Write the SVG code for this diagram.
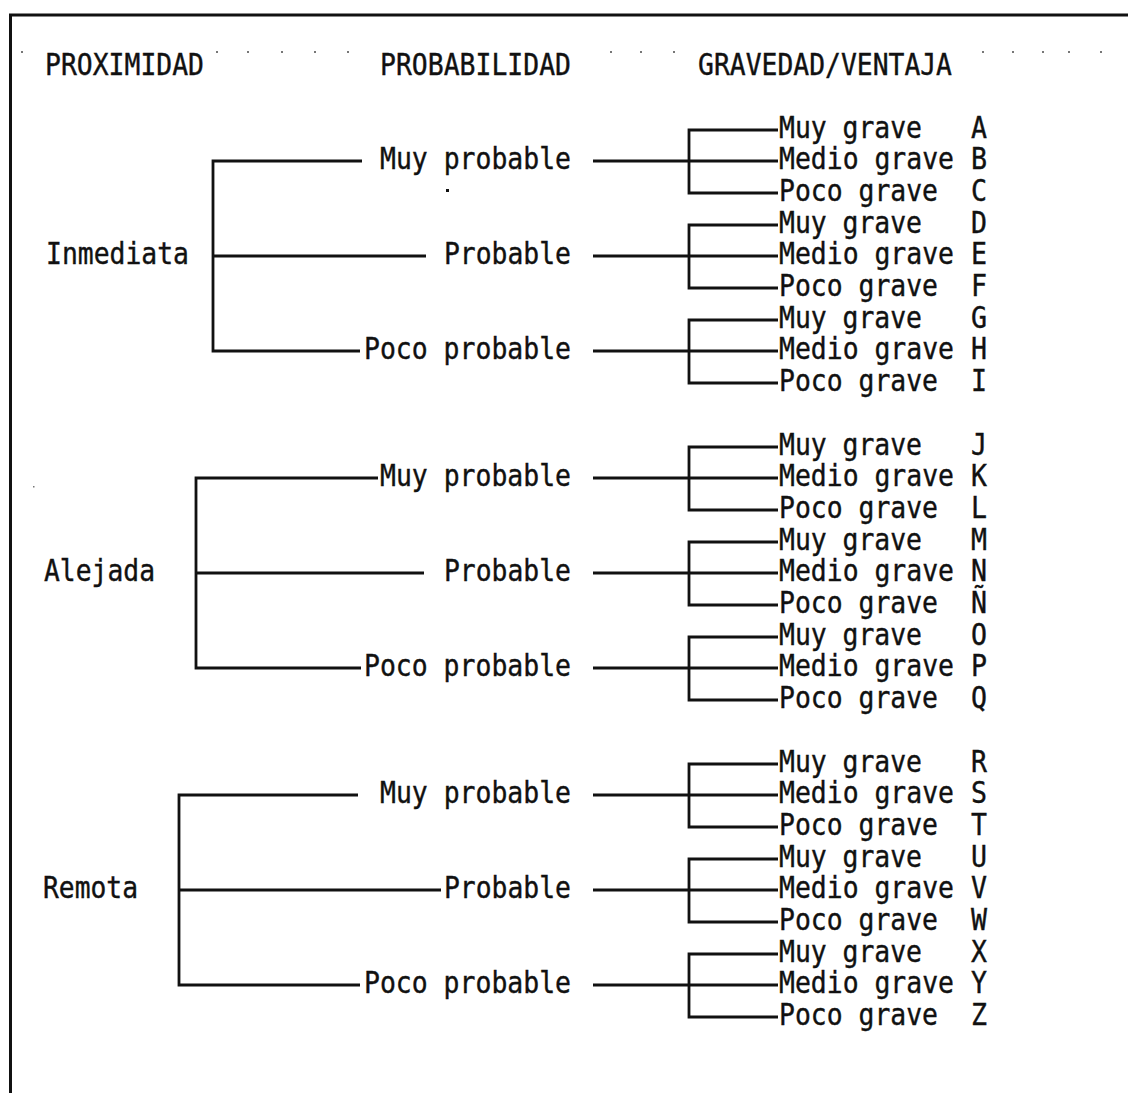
<svg xmlns="http://www.w3.org/2000/svg" width="1128" height="1093" viewBox="0 0 1128 1093">
  <style>
    text { font-family: "DejaVu Sans Mono", "Liberation Mono", monospace; font-size: 30px; fill: #111; stroke: #111; stroke-width: 0.4; }
    .ln { fill: none; stroke: #111; stroke-width: 2.8; stroke-linecap: butt; stroke-linejoin: miter; }
    .frame { fill: none; stroke: #111; stroke-width: 3; }
    .dot { fill: #777; }
  </style>

  <!-- page frame -->
  <path class="frame" d="M10.5 1093 V15 H1128"/>

  <!-- tab leader dots on the header line -->
  <g id="leaders">
    <rect class="dot" x="21" y="51" width="2" height="2"/>
    <rect class="dot" x="216" y="51" width="2" height="2"/>
    <rect class="dot" x="247" y="51" width="2" height="2"/>
    <rect class="dot" x="281" y="51" width="2" height="2"/>
    <rect class="dot" x="314" y="51" width="2" height="2"/>
    <rect class="dot" x="347" y="51" width="2" height="2"/>
    <rect class="dot" x="610" y="51" width="2" height="2"/>
    <rect class="dot" x="640" y="51" width="2" height="2"/>
    <rect class="dot" x="673" y="51" width="2" height="2"/>
    <rect class="dot" x="982" y="51" width="2" height="2"/>
    <rect class="dot" x="1012" y="51" width="2" height="2"/>
    <rect class="dot" x="1042" y="51" width="2" height="2"/>
    <rect class="dot" x="1068" y="51" width="2" height="2"/>
    <rect class="dot" x="1100" y="51" width="2" height="2"/>
    <rect x="446" y="189" width="3" height="3" fill="#111"/>
    <rect class="dot" x="33" y="486" width="1.5" height="1.5"/>
  </g>

  <!-- column headers -->
  <g id="headers">
    <text x="45" y="75" textLength="159" lengthAdjust="spacingAndGlyphs">PROXIMIDAD</text>
    <text x="380" y="75" textLength="191" lengthAdjust="spacingAndGlyphs">PROBABILIDAD</text>
    <text x="698" y="75" textLength="254" lengthAdjust="spacingAndGlyphs">GRAVEDAD/VENTAJA</text>
  </g>

  <!-- connectors -->
  <g id="connectors">
    <!-- proximity brackets -->
    <path class="ln" d="M362 161 H213 V351 H360 M213 256 H426"/>
    <path class="ln" d="M378 478 H196 V668 H361 M196 573 H424"/>
    <path class="ln" d="M358 795 H179 V985 H360 M179 890 H441"/>
    <!-- severity brackets -->
    <path class="ln" d="M778 130 H689 V193 H778 M593 161 H778"/>
    <path class="ln" d="M778 225 H689 V288 H778 M593 256 H778"/>
    <path class="ln" d="M778 320 H689 V383 H778 M593 351 H778"/>
    <path class="ln" d="M778 447 H689 V510 H778 M593 478 H778"/>
    <path class="ln" d="M778 542 H689 V605 H778 M593 573 H778"/>
    <path class="ln" d="M778 637 H689 V700 H778 M593 668 H778"/>
    <path class="ln" d="M778 764 H689 V827 H778 M593 795 H778"/>
    <path class="ln" d="M778 859 H689 V922 H778 M593 890 H778"/>
    <path class="ln" d="M778 954 H689 V1017 H778 M593 985 H778"/>
  </g>

  <!-- proximity nodes -->
  <g id="prox-inmediata"><text x="46" y="264" textLength="143" lengthAdjust="spacingAndGlyphs">Inmediata</text></g>
  <g id="prox-alejada"><text x="44" y="581" textLength="111" lengthAdjust="spacingAndGlyphs">Alejada</text></g>
  <g id="prox-remota"><text x="43" y="898" textLength="95" lengthAdjust="spacingAndGlyphs">Remota</text></g>

  <!-- probability nodes -->
  <g id="prob-1a"><text x="380" y="169" textLength="191" lengthAdjust="spacingAndGlyphs">Muy probable</text></g>
  <g id="prob-1b"><text x="444" y="264" textLength="127" lengthAdjust="spacingAndGlyphs">Probable</text></g>
  <g id="prob-1c"><text x="364" y="359" textLength="207" lengthAdjust="spacingAndGlyphs">Poco probable</text></g>
  <g id="prob-2a"><text x="380" y="486" textLength="191" lengthAdjust="spacingAndGlyphs">Muy probable</text></g>
  <g id="prob-2b"><text x="444" y="581" textLength="127" lengthAdjust="spacingAndGlyphs">Probable</text></g>
  <g id="prob-2c"><text x="364" y="676" textLength="207" lengthAdjust="spacingAndGlyphs">Poco probable</text></g>
  <g id="prob-3a"><text x="380" y="803" textLength="191" lengthAdjust="spacingAndGlyphs">Muy probable</text></g>
  <g id="prob-3b"><text x="444" y="898" textLength="127" lengthAdjust="spacingAndGlyphs">Probable</text></g>
  <g id="prob-3c"><text x="364" y="993" textLength="207" lengthAdjust="spacingAndGlyphs">Poco probable</text></g>

  <!-- severity leaves -->
  <g id="grav-A"><text x="779" y="138" textLength="143" lengthAdjust="spacingAndGlyphs">Muy grave</text><text x="971" y="138" textLength="16" lengthAdjust="spacingAndGlyphs">A</text></g>
  <g id="grav-B"><text x="779" y="169" textLength="175" lengthAdjust="spacingAndGlyphs">Medio grave</text><text x="971" y="169" textLength="16" lengthAdjust="spacingAndGlyphs">B</text></g>
  <g id="grav-C"><text x="779" y="201" textLength="159" lengthAdjust="spacingAndGlyphs">Poco grave</text><text x="971" y="201" textLength="16" lengthAdjust="spacingAndGlyphs">C</text></g>
  <g id="grav-D"><text x="779" y="233" textLength="143" lengthAdjust="spacingAndGlyphs">Muy grave</text><text x="971" y="233" textLength="16" lengthAdjust="spacingAndGlyphs">D</text></g>
  <g id="grav-E"><text x="779" y="264" textLength="175" lengthAdjust="spacingAndGlyphs">Medio grave</text><text x="971" y="264" textLength="16" lengthAdjust="spacingAndGlyphs">E</text></g>
  <g id="grav-F"><text x="779" y="296" textLength="159" lengthAdjust="spacingAndGlyphs">Poco grave</text><text x="971" y="296" textLength="16" lengthAdjust="spacingAndGlyphs">F</text></g>
  <g id="grav-G"><text x="779" y="328" textLength="143" lengthAdjust="spacingAndGlyphs">Muy grave</text><text x="971" y="328" textLength="16" lengthAdjust="spacingAndGlyphs">G</text></g>
  <g id="grav-H"><text x="779" y="359" textLength="175" lengthAdjust="spacingAndGlyphs">Medio grave</text><text x="971" y="359" textLength="16" lengthAdjust="spacingAndGlyphs">H</text></g>
  <g id="grav-I"><text x="779" y="391" textLength="159" lengthAdjust="spacingAndGlyphs">Poco grave</text><text x="971" y="391" textLength="16" lengthAdjust="spacingAndGlyphs">I</text></g>

  <g id="grav-J"><text x="779" y="455" textLength="143" lengthAdjust="spacingAndGlyphs">Muy grave</text><text x="971" y="455" textLength="16" lengthAdjust="spacingAndGlyphs">J</text></g>
  <g id="grav-K"><text x="779" y="486" textLength="175" lengthAdjust="spacingAndGlyphs">Medio grave</text><text x="971" y="486" textLength="16" lengthAdjust="spacingAndGlyphs">K</text></g>
  <g id="grav-L"><text x="779" y="518" textLength="159" lengthAdjust="spacingAndGlyphs">Poco grave</text><text x="971" y="518" textLength="16" lengthAdjust="spacingAndGlyphs">L</text></g>
  <g id="grav-M"><text x="779" y="550" textLength="143" lengthAdjust="spacingAndGlyphs">Muy grave</text><text x="971" y="550" textLength="16" lengthAdjust="spacingAndGlyphs">M</text></g>
  <g id="grav-N"><text x="779" y="581" textLength="175" lengthAdjust="spacingAndGlyphs">Medio grave</text><text x="971" y="581" textLength="16" lengthAdjust="spacingAndGlyphs">N</text></g>
  <g id="grav-NN"><text x="779" y="613" textLength="159" lengthAdjust="spacingAndGlyphs">Poco grave</text><text x="971" y="613" textLength="16" lengthAdjust="spacingAndGlyphs">Ñ</text></g>
  <g id="grav-O"><text x="779" y="645" textLength="143" lengthAdjust="spacingAndGlyphs">Muy grave</text><text x="971" y="645" textLength="16" lengthAdjust="spacingAndGlyphs">O</text></g>
  <g id="grav-P"><text x="779" y="676" textLength="175" lengthAdjust="spacingAndGlyphs">Medio grave</text><text x="971" y="676" textLength="16" lengthAdjust="spacingAndGlyphs">P</text></g>
  <g id="grav-Q"><text x="779" y="708" textLength="159" lengthAdjust="spacingAndGlyphs">Poco grave</text><text x="971" y="708" textLength="16" lengthAdjust="spacingAndGlyphs">Q</text></g>

  <g id="grav-R"><text x="779" y="772" textLength="143" lengthAdjust="spacingAndGlyphs">Muy grave</text><text x="971" y="772" textLength="16" lengthAdjust="spacingAndGlyphs">R</text></g>
  <g id="grav-S"><text x="779" y="803" textLength="175" lengthAdjust="spacingAndGlyphs">Medio grave</text><text x="971" y="803" textLength="16" lengthAdjust="spacingAndGlyphs">S</text></g>
  <g id="grav-T"><text x="779" y="835" textLength="159" lengthAdjust="spacingAndGlyphs">Poco grave</text><text x="971" y="835" textLength="16" lengthAdjust="spacingAndGlyphs">T</text></g>
  <g id="grav-U"><text x="779" y="867" textLength="143" lengthAdjust="spacingAndGlyphs">Muy grave</text><text x="971" y="867" textLength="16" lengthAdjust="spacingAndGlyphs">U</text></g>
  <g id="grav-V"><text x="779" y="898" textLength="175" lengthAdjust="spacingAndGlyphs">Medio grave</text><text x="971" y="898" textLength="16" lengthAdjust="spacingAndGlyphs">V</text></g>
  <g id="grav-W"><text x="779" y="930" textLength="159" lengthAdjust="spacingAndGlyphs">Poco grave</text><text x="971" y="930" textLength="16" lengthAdjust="spacingAndGlyphs">W</text></g>
  <g id="grav-X"><text x="779" y="962" textLength="143" lengthAdjust="spacingAndGlyphs">Muy grave</text><text x="971" y="962" textLength="16" lengthAdjust="spacingAndGlyphs">X</text></g>
  <g id="grav-Y"><text x="779" y="993" textLength="175" lengthAdjust="spacingAndGlyphs">Medio grave</text><text x="971" y="993" textLength="16" lengthAdjust="spacingAndGlyphs">Y</text></g>
  <g id="grav-Z"><text x="779" y="1025" textLength="159" lengthAdjust="spacingAndGlyphs">Poco grave</text><text x="971" y="1025" textLength="16" lengthAdjust="spacingAndGlyphs">Z</text></g>
</svg>
